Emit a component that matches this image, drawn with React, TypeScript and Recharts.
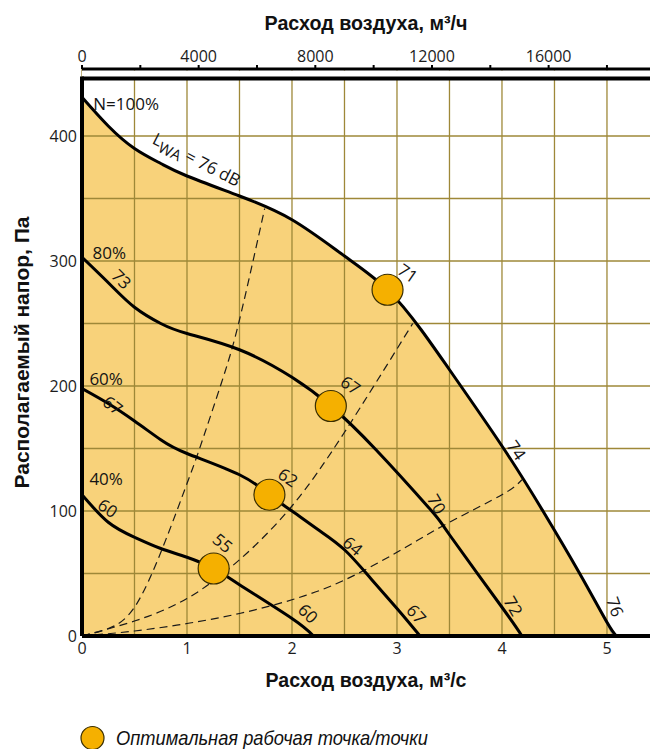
import React from 'react'
import {
  Area,
  CartesianGrid,
  ComposedChart,
  Label,
  Line,
  ReferenceArea,
  ReferenceDot,
  ReferenceLine,
  Scatter,
  XAxis,
  YAxis,
} from 'recharts'

// fan curves: q = air flow, m³/s; p = available pressure, Pa
const curve100 = [
  { q: 0, p: 431 },
  { q: 0.25, p: 408 },
  { q: 0.5, p: 390 },
  { q: 0.75, p: 378 },
  { q: 1, p: 368 },
  { q: 1.5, p: 352 },
  { q: 2, p: 333 },
  { q: 2.5, p: 304 },
  { q: 2.91, p: 277 },
  { q: 3.23, p: 245 },
  { q: 3.5, p: 213 },
  { q: 4, p: 152 },
  { q: 4.39, p: 100 },
  { q: 4.74, p: 50 },
  { q: 5, p: 11 },
  { q: 5.09, p: 0 },
]

const curve80 = [
  { q: 0, p: 303 },
  { q: 0.27, p: 281 },
  { q: 0.5, p: 263 },
  { q: 0.75, p: 250 },
  { q: 1, p: 242 },
  { q: 1.5, p: 229 },
  { q: 2, p: 207 },
  { q: 2.37, p: 184 },
  { q: 2.8, p: 149 },
  { q: 3.32, p: 101 },
  { q: 3.5, p: 81 },
  { q: 4, p: 23 },
  { q: 4.19, p: 0 },
]

const curve60 = [
  { q: 0, p: 198 },
  { q: 0.25, p: 186 },
  { q: 0.5, p: 172 },
  { q: 0.75, p: 157 },
  { q: 1, p: 146 },
  { q: 1.5, p: 129 },
  { q: 1.785, p: 113 },
  { q: 2, p: 100 },
  { q: 2.25, p: 85 },
  { q: 2.5, p: 69 },
  { q: 2.75, p: 46 },
  { q: 3, p: 22 },
  { q: 3.22, p: 0 },
]

const curve40 = [
  { q: 0, p: 113 },
  { q: 0.25, p: 91 },
  { q: 0.5, p: 79 },
  { q: 0.75, p: 70 },
  { q: 1, p: 63 },
  { q: 1.254, p: 54 },
  { q: 1.5, p: 41 },
  { q: 2, p: 14 },
  { q: 2.205, p: 0 },
]

// 76 dB line running along the tail of the full-speed curve
const level76 = [
  { q: 4.55, p: 76 },
  { q: 4.74, p: 50 },
  { q: 4.95, p: 17 },
  { q: 5.06, p: 0 },
]

// system characteristics
const system1 = [
  { q: 0, p: 0 },
  { q: 0.25, p: 6 },
  { q: 0.5, p: 23 },
  { q: 0.77, p: 71 },
  { q: 1, p: 122 },
  { q: 1.12, p: 150 },
  { q: 1.33, p: 203 },
  { q: 1.5, p: 253 },
  { q: 1.74, p: 342 },
]

const system2 = [
  { q: 0, p: 0 },
  { q: 0.5, p: 12 },
  { q: 1, p: 30 },
  { q: 1.5, p: 61 },
  { q: 2, p: 104 },
  { q: 2.5, p: 163 },
  { q: 3.15, p: 250 },
]

const system3 = [
  { q: 0, p: 0 },
  { q: 0.5, p: 4 },
  { q: 1, p: 10 },
  { q: 1.5, p: 18 },
  { q: 2, p: 29 },
  { q: 2.48, p: 44 },
  { q: 3, p: 67 },
  { q: 3.5, p: 91 },
  { q: 4, p: 113 },
  { q: 4.19, p: 125 },
]

const optimumPoints = [
  { q: 2.91, p: 277 },
  { q: 2.37, p: 184 },
  { q: 1.785, p: 113 },
  { q: 1.254, p: 54 },
]

const flowTicks = [0, 0.5, 1, 1.5, 2, 2.5, 3, 3.5, 4, 4.5, 5]
const hourTicks = [0, 2000, 4000, 6000, 8000, 10000, 12000, 14000, 16000, 18000]
const pressureTicks = [0, 50, 100, 150, 200, 250, 300, 350, 400]

// text written along the curves
const curveNotes = [
  { q: 0.42, p: 426, text: 'N=100%', angle: 0 },
  { q: 0.26, p: 307, text: '80%', angle: 0 },
  { q: 0.23, p: 206, text: '60%', angle: 0 },
  { q: 0.23, p: 126, text: '40%', angle: 0 },
  { q: 0.378, p: 285.6, text: '73', angle: 45 },
  { q: 0.295, p: 184.8, text: '67', angle: 38 },
  { q: 0.248, p: 102.4, text: '60', angle: 35 },
  { q: 3.105, p: 290.4, text: '71', angle: 35 },
  { q: 2.56, p: 200.8, text: '67', angle: 35 },
  { q: 1.965, p: 127, text: '62', angle: 35 },
  { q: 1.343, p: 74.6, text: '55', angle: 40 },
  { q: 4.14, p: 148.8, text: '74', angle: 55 },
  { q: 5.08, p: 23.4, text: '76', angle: 70 },
  { q: 3.38, p: 105.6, text: '70', angle: 60 },
  { q: 4.11, p: 24, text: '72', angle: 60 },
  { q: 2.58, p: 72.2, text: '64', angle: 40 },
  { q: 3.187, p: 17.6, text: '67', angle: 48 },
  { q: 2.155, p: 18.2, text: '60', angle: 45 },
]

const Q_MAX = 5.486
const HOUR_MAX = 19750
const P_MAX = 453.6
const FRAME_TOP = 446

const GRID = '#9E8838'
const FILL = '#F8D27A'
const DOT = '#F5B000'
const TICK_FONT = "'Open Sans', 'DejaVu Sans', sans-serif"
const TITLE_FONT = "'Liberation Sans', Arial, sans-serif"

const tickStyle = { fontSize: 16, fill: '#1c1c1c', fontFamily: TICK_FONT }

function NoteText(props: any) {
  const { cx, cy, text, angle } = props
  if (cx == null || cy == null) return null
  return (
    <text
      x={cx}
      y={cy}
      transform={angle ? `rotate(${angle} ${cx} ${cy})` : undefined}
      textAnchor="middle"
      dominantBaseline="central"
      fontFamily={TICK_FONT}
      fontSize={17}
      fill="#141414"
    >
      {text}
    </text>
  )
}

function LwaText(props: any) {
  const { cx, cy } = props
  if (cx == null || cy == null) return null
  return (
    <text
      x={cx}
      y={cy}
      transform={`rotate(27 ${cx} ${cy})`}
      textAnchor="middle"
      dominantBaseline="central"
      fontFamily={TICK_FONT}
      fontSize={17}
      fill="#141414"
    >
      L
      <tspan dy={5} fontSize={15}>
        WA
      </tspan>
      <tspan dy={-5}> = 76 dB</tspan>
    </text>
  )
}

function MarkerDot(props: any) {
  const { cx, cy } = props
  if (cx == null || cy == null) return null
  return <circle cx={cx} cy={cy} r={15.5} fill={DOT} stroke="#3a2e00" strokeWidth={1.2} />
}

function hideOdd(step: number) {
  return (v: number) => (Math.abs(v / step - Math.round(v / step)) < 1e-6 ? String(v) : '')
}

function TopTitle(props: any) {
  const vb = props.viewBox || { x: 74, y: 0, width: 576 }
  return (
    <text
      x={vb.x + vb.width / 2 - 4}
      y={vb.y + 22}
      textAnchor="middle"
      fontFamily={TITLE_FONT}
      fontWeight={700}
      fontSize={21}
      fill="#111"
      textLength={203}
      lengthAdjust="spacingAndGlyphs"
    >
      Расход воздуха, м³/ч
    </text>
  )
}

function BottomTitle(props: any) {
  const vb = props.viewBox || { x: 74, y: 628, width: 576 }
  return (
    <text
      x={vb.x + vb.width / 2 - 4}
      y={vb.y + 51}
      textAnchor="middle"
      fontFamily={TITLE_FONT}
      fontWeight={700}
      fontSize={21}
      fill="#111"
      textLength={201}
      lengthAdjust="spacingAndGlyphs"
    >
      Расход воздуха, м³/с
    </text>
  )
}

function SideTitle(props: any) {
  const vb = props.viewBox || { x: 0, y: 61, width: 74, height: 567 }
  const x = 21
  const y = vb.y + vb.height / 2
  return (
    <text
      x={x}
      y={y}
      transform={`rotate(-90 ${x} ${y})`}
      textAnchor="middle"
      fontFamily={TITLE_FONT}
      fontWeight={700}
      fontSize={21}
      fill="#111"
      textLength={272}
      lengthAdjust="spacingAndGlyphs"
    >
      Располагаемый напор, Па
    </text>
  )
}

function FanChart() {
  const curveLine = (data: { q: number; p: number }[], key: string) => (
    <Line
      key={key}
      data={data}
      dataKey="p"
      type="natural"
      stroke="#000"
      strokeWidth={3}
      dot={false}
      activeDot={false}
      isAnimationActive={false}
      zIndex={400}
    />
  )
  const systemLine = (data: { q: number; p: number }[], key: string) => (
    <Line
      key={key}
      data={data}
      dataKey="p"
      type="natural"
      stroke="#1a1a1a"
      strokeWidth={1.2}
      strokeDasharray="8 5"
      dot={false}
      activeDot={false}
      isAnimationActive={false}
      zIndex={380}
    />
  )

  return (
    <ComposedChart width={650} height={700} margin={{ top: 0, right: 0, bottom: 0, left: 0 }}>
      <XAxis
        xAxisId="top"
        dataKey="h"
        orientation="top"
        type="number"
        domain={[0, HOUR_MAX]}
        allowDataOverflow
        ticks={hourTicks}
        tickFormatter={hideOdd(4000)}
        height={61}
        tick={tickStyle}
        tickSize={4}
        tickMargin={3}
        axisLine={{ stroke: '#000', strokeWidth: 3 }}
        tickLine={{ stroke: '#000', strokeWidth: 2 }}
      >
        <Label content={TopTitle} />
      </XAxis>
      <XAxis
        dataKey="q"
        type="number"
        domain={[0, Q_MAX]}
        allowDataOverflow
        ticks={flowTicks}
        tickFormatter={hideOdd(1)}
        height={72}
        tick={tickStyle}
        tickSize={0}
        tickMargin={7}
        axisLine={{ stroke: '#000', strokeWidth: 4 }}
        tickLine={false}
      >
        <Label content={BottomTitle} />
      </XAxis>
      <YAxis
        dataKey="p"
        type="number"
        domain={[0, P_MAX]}
        allowDataOverflow
        ticks={pressureTicks}
        tickFormatter={hideOdd(100)}
        width={74}
        tick={tickStyle}
        tickSize={0}
        tickMargin={5}
        axisLine={false}
        tickLine={false}
      >
        <Label content={SideTitle} />
      </YAxis>

      {/* invisible series so the m³/h axis gets its scale */}
      <Line
        xAxisId="top"
        data={hourTicks.map((h) => ({ h, p: 0 }))}
        dataKey="p"
        stroke="none"
        dot={false}
        activeDot={false}
        legendType="none"
        isAnimationActive={false}
      />

      <Area
        data={curve100}
        dataKey="p"
        type="natural"
        fill={FILL}
        fillOpacity={1}
        stroke="none"
        isAnimationActive={false}
        zIndex={100}
      />
      <CartesianGrid stroke={GRID} strokeWidth={1.3} zIndex={150} />
      <ReferenceArea
        y1={FRAME_TOP}
        y2={452.5}
        fill="#fff"
        fillOpacity={1}
        stroke="none"
        ifOverflow="visible"
        zIndex={200}
      />

      {systemLine(system1, 's1')}
      {systemLine(system2, 's2')}
      {systemLine(system3, 's3')}

      <Line
        data={level76}
        dataKey="p"
        type="natural"
        stroke="#9a9a9a"
        strokeWidth={1}
        dot={false}
        activeDot={false}
        isAnimationActive={false}
        zIndex={390}
      />
      {curveLine(curve40, 'c40')}
      {curveLine(curve60, 'c60')}
      {curveLine(curve80, 'c80')}
      {curveLine(curve100, 'c100')}

      <ReferenceLine y={FRAME_TOP} stroke="#000" strokeWidth={4} ifOverflow="visible" zIndex={450} />
      <ReferenceLine
        segment={[
          { x: 0, y: 0 },
          { x: 0, y: FRAME_TOP + 1.6 },
        ]}
        stroke="#000"
        strokeWidth={4}
        ifOverflow="visible"
        zIndex={450}
      />

      <Scatter data={optimumPoints} dataKey="p" shape={MarkerDot} isAnimationActive={false} zIndex={600} />

      <ReferenceDot
        x={1.095}
        y={381.6}
        r={0}
        ifOverflow="visible"
        shape={(pr: any) => <LwaText {...pr} />}
        zIndex={700}
      />
      {curveNotes.map((n, i) => (
        <ReferenceDot
          key={`note-${i}`}
          x={n.q}
          y={n.p}
          r={0}
          ifOverflow="visible"
          shape={(pr: any) => <NoteText {...pr} text={n.text} angle={n.angle} />}
          zIndex={700}
        />
      ))}
    </ComposedChart>
  )
}

export default function App() {
  return (
    <div style={{ width: 650, height: 741, position: 'relative', background: '#fff' }}>
      <FanChart />
      <svg width={650} height={41} style={{ display: 'block' }}>
        <circle cx={84.5} cy={30} r={11.5} fill={DOT} stroke="#3a2e00" strokeWidth={1.2} />
        <text
          x={108}
          y={37}
          fontFamily={TITLE_FONT}
          fontStyle="italic"
          fontSize={21}
          fill="#111"
          textLength={312}
          lengthAdjust="spacingAndGlyphs"
        >
          Оптимальная рабочая точка/точки
        </text>
      </svg>
    </div>
  )
}
